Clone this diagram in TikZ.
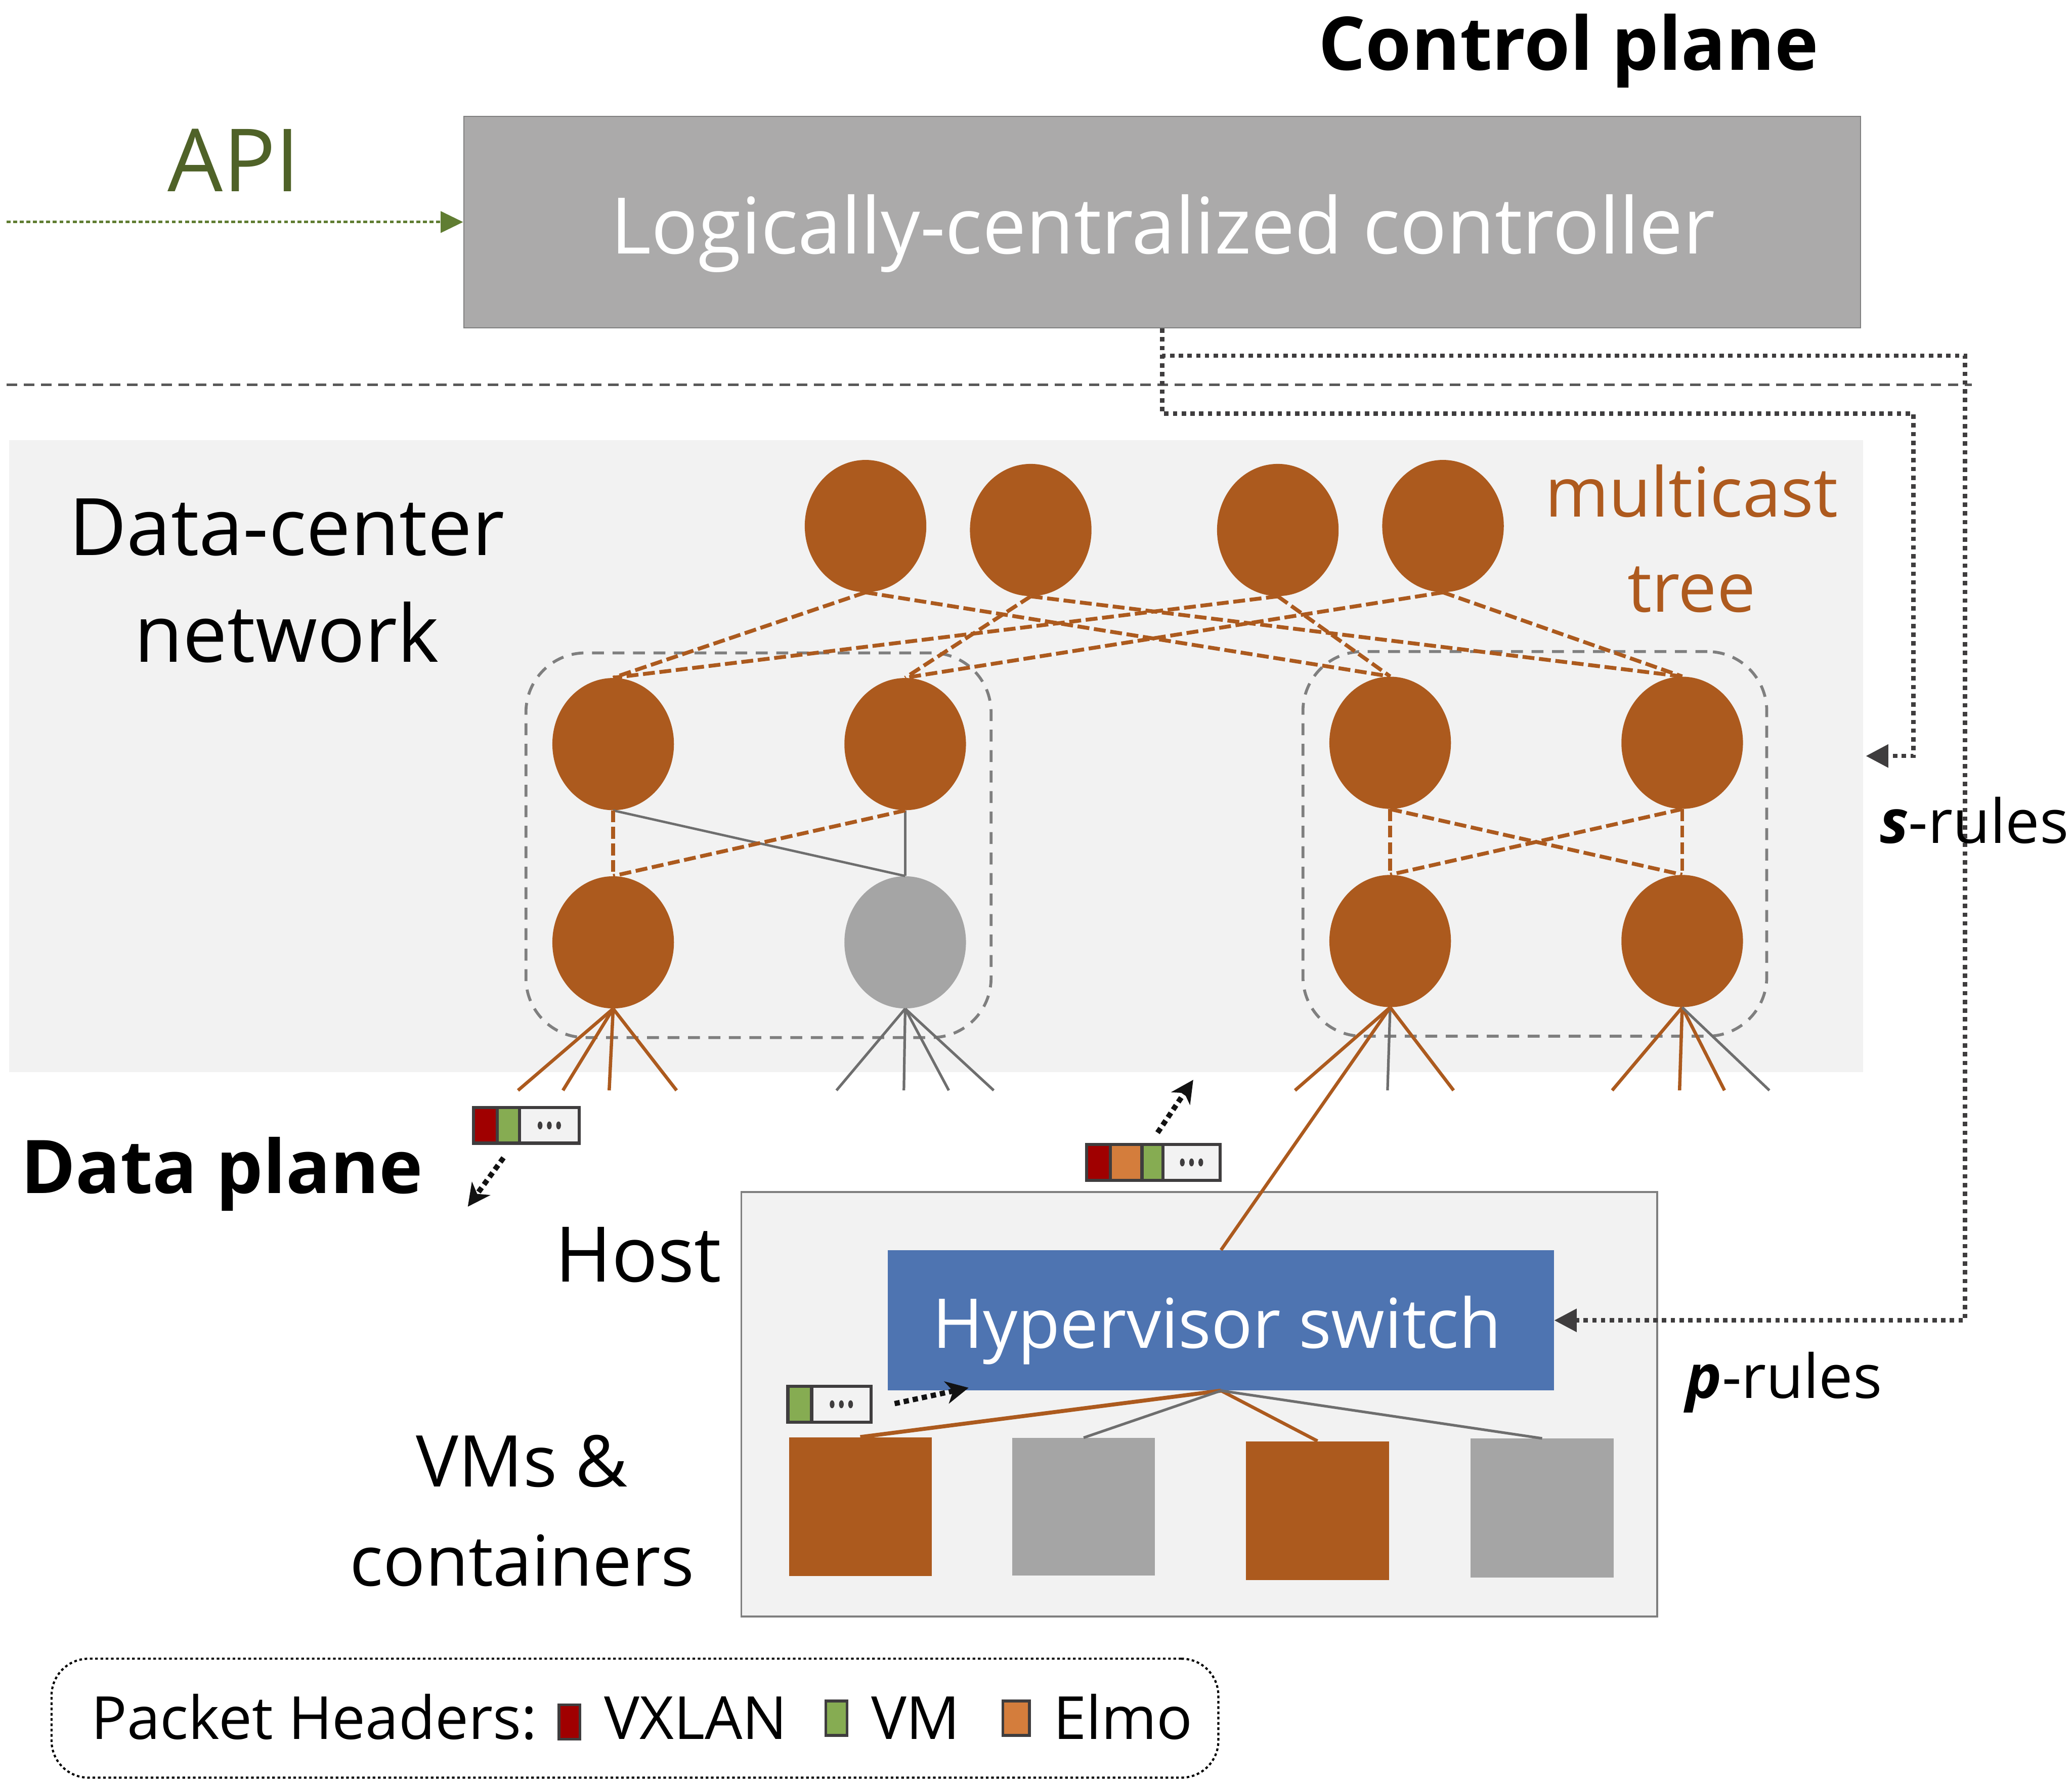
\documentclass[tikz,border=0pt]{standalone}
\usepackage{fontspec}
\setmainfont{Open Sans}
\usetikzlibrary{arrows.meta,shapes.geometric}
\definecolor{brn}{RGB}{172,90,30}
\definecolor{gnode}{RGB}{165,165,165}
\definecolor{ctrlfill}{RGB}{171,170,170}
\definecolor{ctrlline}{RGB}{127,127,127}
\definecolor{hvblue}{RGB}{78,116,177}
\definecolor{bgl}{RGB}{242,242,242}
\definecolor{apigreen}{RGB}{79,98,40}
\definecolor{apiline}{RGB}{96,125,50}
\definecolor{hred}{RGB}{160,0,0}
\definecolor{hgreen}{RGB}{134,172,82}
\definecolor{horange}{RGB}{212,125,60}
\definecolor{hdark}{RGB}{63,61,62}
\definecolor{sepgray}{RGB}{89,89,89}
\definecolor{podgray}{RGB}{127,127,127}
\definecolor{edgegray}{RGB}{110,110,110}
\definecolor{mtree}{RGB}{174,90,30}
\tikzset{
  sw/.style={ellipse, fill=brn, minimum width=92pt, minimum height=100pt, inner sep=0pt},
  swg/.style={sw, fill=gnode},
  tedge/.style={draw=brn, line width=2.9pt, dash pattern=on 9pt off 3.5pt},
  gedge/.style={draw=edgegray, line width=1.8pt},
  leafb/.style={draw=brn, line width=2.5pt},
  leafg/.style={draw=edgegray, line width=2pt},
  podbox/.style={draw=podgray, line width=2.2pt, dash pattern=on 9pt off 6.5pt, rounded corners=45pt, minimum height=291pt, inner sep=0pt},
  ctl/.style={draw=hdark, line width=3.2pt, dash pattern=on 3.3pt off 3.3pt},
  ctlarrow/.style={ctl, -{Triangle[length=17pt,width=17pt]}},
  pkt/.style={draw=black!93, line width=4pt, dash pattern=on 4pt off 3pt, -{Stealth[length=17pt,width=17pt,inset=5pt]}},
  hcell/.style={draw=hdark, line width=2.4pt, minimum height=27pt, inner sep=0pt, anchor=west},
  lcell/.style={draw=hdark, line width=2pt, minimum height=26pt, minimum width=16pt, inner sep=0pt},
  vm/.style={minimum width=108pt, minimum height=105pt, inner sep=0pt},
  txt/.style={anchor=base, inner sep=0pt},
  vmline/.style={line width=3pt},
}
\begin{document}
\begin{tikzpicture}[x=1pt,y=-1pt]
\useasboundingbox (0,0) rectangle (1568,1351);

% ---------- control plane ----------
\node[txt, font=\fontsize{56}{66}\selectfont\bfseries] (cptext) at (1187,53) {Control plane};
\node[txt, font=\fontsize{66}{76}\selectfont, text=apigreen] (apitext) at (177,145) {API};
\node[draw=ctrlline, line width=1pt, fill=ctrlfill, minimum width=1057pt, minimum height=160pt, inner sep=0pt] (ctrl) at (879.5,168) {};
\node[txt, font=\fontsize{59}{70}\selectfont, text=white] (ctrltext) at (880,192) {Logically-centralized controller};
\coordinate (apis) at (5,168);
\draw[apiline, line width=2pt, dash pattern=on 3pt off 2pt, -{Triangle[length=17pt,width=16pt]}] (apis) -- (ctrl.west);

% separator
\coordinate (sepL) at (5,291);
\coordinate (sepR) at (1492,291);
\draw[sepgray, line width=2pt, dash pattern=on 8pt off 5pt] (sepL) -- (sepR);

% ---------- data-center network ----------
\node[fill=bgl, minimum width=1403pt, minimum height=478pt, inner sep=0pt] (dcn) at (708.5,572) {};
\node[txt, font=\fontsize{60}{70}\selectfont] (dcn1) at (217,420) {Data-center};
\node[txt, font=\fontsize{60}{70}\selectfont] (dcn2) at (217,501) {network};
\node[txt, font=\fontsize{52}{62}\selectfont, text=mtree] (mt1) at (1280,391) {multicast};
\node[txt, font=\fontsize{52}{62}\selectfont, text=mtree] (mt2) at (1280,463) {tree};

% pod boxes
\node[podbox, minimum width=352pt] (podL) at (574,639.5) {};
\node[podbox, minimum width=351pt] (podR) at (1161.5,638.5) {};

% switches
\node[sw] (t1) at (655,398) {};
\node[sw] (t2) at (780,401) {};
\node[sw] (t3) at (967,401) {};
\node[sw] (t4) at (1092,398) {};
\node[sw] (m1) at (464,563) {};
\node[sw] (m2) at (685,563) {};
\node[sw] (m3) at (1052,562) {};
\node[sw] (m4) at (1273,562) {};
\node[sw] (b1) at (464,713) {};
\node[swg] (b2) at (685,713) {};
\node[sw] (b3) at (1052,712) {};
\node[sw] (b4) at (1273,712) {};

% core to aggregation
\draw[tedge] (t1.south) -- (m1.north);
\draw[tedge] (t1.south) -- (m3.north);
\draw[tedge] (t2.south) -- (m2.north);
\draw[tedge] (t2.south) -- (m4.north);
\draw[tedge] (t3.south) -- (m1.north);
\draw[tedge] (t3.south) -- (m3.north);
\draw[tedge] (t4.south) -- (m2.north);
\draw[tedge] (t4.south) -- (m4.north);

% pods
\draw[gedge] (m1.south) -- (b2.north);
\draw[gedge] (m2.south) -- (b2.north);
\draw[tedge] (m1.south) -- (b1.north);
\draw[tedge] (m2.south) -- (b1.north);
\draw[tedge] (m3.south) -- (b3.north);
\draw[tedge] (m3.south) -- (b4.north);
\draw[tedge] (m4.south) -- (b3.north);
\draw[tedge] (m4.south) -- (b4.north);

% leaves
\coordinate (l11) at (392,825); \coordinate (l12) at (426,825);
\coordinate (l13) at (461,825); \coordinate (l14) at (512,825);
\coordinate (l21) at (633,825); \coordinate (l22) at (684,825);
\coordinate (l23) at (718,825); \coordinate (l24) at (752,825);
\coordinate (l31) at (980,825); \coordinate (l32) at (1050,825);
\coordinate (l33) at (1100,825);
\coordinate (l41) at (1220,825); \coordinate (l42) at (1271,825);
\coordinate (l43) at (1305,825); \coordinate (l44) at (1339,825);
\foreach \e in {l11,l12,l13,l14} \draw[leafb] (b1.south) -- (\e);
\foreach \e in {l21,l22,l23,l24} \draw[leafg] (b2.south) -- (\e);
\draw[leafb] (b3.south) -- (l31);
\draw[leafg] (b3.south) -- (l32);
\draw[leafb] (b3.south) -- (l33);
\foreach \e in {l41,l42,l43} \draw[leafb] (b4.south) -- (\e);
\draw[leafg] (b4.south) -- (l44);

% ---------- host ----------
\node[draw=podgray, line width=1.5pt, fill=bgl, minimum width=693pt, minimum height=321pt, inner sep=0pt] (host) at (907.5,1062.5) {};
\node[fill=hvblue, minimum width=504pt, minimum height=106pt, inner sep=0pt] (hv) at (924,999) {};
\node[txt, font=\fontsize{52}{62}\selectfont, text=white] (hvtext) at (921,1020) {Hypervisor switch};
\draw[leafb] (b3.south) -- (hv.north);

\node[vm, fill=brn] (vm1) at (651,1140) {};
\node[vm, fill=gnode, minimum height=104pt] (vm2) at (820,1140) {};
\node[vm, fill=brn] (vm3) at (997,1143) {};
\node[vm, fill=gnode] (vm4) at (1167,1141) {};
\draw[vmline, brn] (hv.south) -- (vm1.north);
\draw[leafg] (hv.south) -- (vm2.north);
\draw[leafb] (hv.south) -- (vm3.north);
\draw[leafg] (hv.south) -- (vm4.north);

\node[txt, font=\fontsize{58}{68}\selectfont] (hosttext) at (483,970) {Host};
\node[txt, font=\fontsize{54}{64}\selectfont] (vmt1) at (395,1125) {VMs \&};
\node[txt, font=\fontsize{53}{63}\selectfont] (vmt2) at (395,1200) {containers};
\node[txt, font=\fontsize{56}{66}\selectfont\bfseries] (dptext) at (168,903) {Data plane};

% ---------- control rules ----------
\coordinate (sr1) at (1448,313);
\coordinate (sr2) at (1412,572);
\draw[ctlarrow] (ctrl.south) |- (sr1) |- (sr2);
\coordinate (pr1) at (1487,269);
\draw[ctlarrow] (ctrl.south) |- (pr1) |- (hv.east);
\node[txt, font=\fontsize{46}{56}\selectfont] (srtext) at (1494,638) {{\bfseries\itshape s}-rules};
\node[txt, font=\fontsize{46}{56}\selectfont] (prtext) at (1350,1058) {{\bfseries\itshape p}-rules};

% ---------- packet headers ----------
% header 1
\node[hcell, fill=hred, minimum width=18pt] (h1r) at (357,851.5) {};
\node[hcell, fill=hgreen, minimum width=17pt] (h1g) at (375,851.5) {};
\node[hcell, fill=bgl, minimum width=45pt] (h1d) at (392,851.5) {};
\foreach \dx in {-7,0,7} \fill[hdark] ([xshift=\dx pt]h1d.center) ellipse (1.8pt and 3pt);
% header 2
\node[hcell, fill=hred, minimum width=18pt] (h2r) at (821,879.5) {};
\node[hcell, fill=horange, minimum width=24pt] (h2o) at (839,879.5) {};
\node[hcell, fill=hgreen, minimum width=16pt] (h2g) at (863,879.5) {};
\node[hcell, fill=bgl, minimum width=43pt] (h2d) at (879,879.5) {};
\foreach \dx in {-7,0,7} \fill[hdark] ([xshift=\dx pt]h2d.center) ellipse (1.8pt and 3pt);
% header 3
\node[hcell, fill=hgreen, minimum width=18pt] (h3g) at (595,1062.5) {};
\node[hcell, fill=bgl, minimum width=45pt] (h3d) at (613,1062.5) {};
\foreach \dx in {-7,0,7} \fill[hdark] ([xshift=\dx pt]h3d.center) ellipse (1.8pt and 3pt);

% packet arrows
\coordinate (a1s) at (381,876); \coordinate (a1e) at (354,913);
\coordinate (a2s) at (876,857); \coordinate (a2e) at (903,817);
\coordinate (a3s) at (677,1062); \coordinate (a3e) at (733,1050);
\draw[pkt] (a1s) -- (a1e);
\draw[pkt] (a2s) -- (a2e);
\draw[pkt] (a3s) -- (a3e);

% ---------- legend ----------
\node[draw=black, line width=1.6pt, dash pattern=on 2pt off 2pt, rounded corners=28pt, minimum width=883pt, minimum height=90pt, inner sep=0pt] (legend) at (480.5,1300) {};
\node[anchor=base west, inner sep=0pt, font=\fontsize{45}{54}\selectfont] (lgt) at (69,1316) {Packet Headers:};
\node[lcell, fill=hred] (lgr) at (431,1303) {};
\node[anchor=base west, inner sep=0pt, font=\fontsize{45}{54}\selectfont] (lgv) at (457,1316) {VXLAN};
\node[lcell, fill=hgreen] (lgg) at (633,1300) {};
\node[anchor=base west, inner sep=0pt, font=\fontsize{45}{54}\selectfont] (lgvm) at (659,1316) {VM};
\node[lcell, fill=horange, minimum width=20pt] (lgo) at (769,1300) {};
\node[anchor=base west, inner sep=0pt, font=\fontsize{45}{54}\selectfont] (lge) at (797,1316) {Elmo};
\end{tikzpicture}
\end{document}
